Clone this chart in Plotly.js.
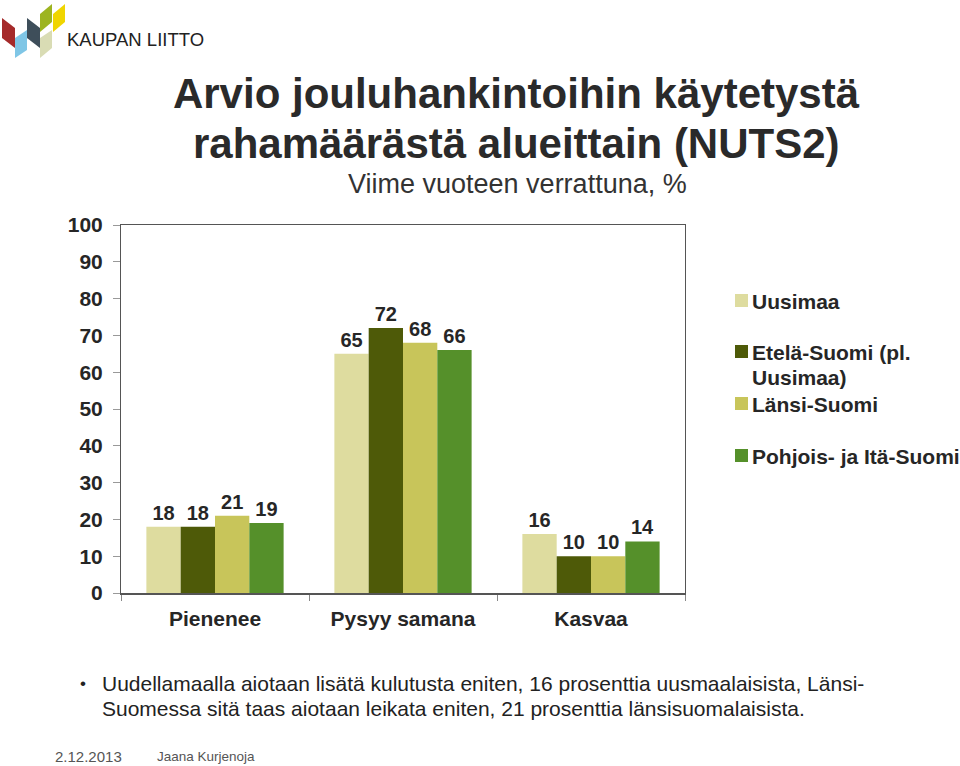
<!DOCTYPE html>
<html>
<head>
<meta charset="utf-8">
<script src="https://cdn.plot.ly/plotly-3.0.1.min.js"></script>
<style>html,body{margin:0;padding:0;background:#fff;}#chart{width:960px;height:766px;}</style>
</head>
<body>
<div id="chart"></div>
<script>
const categories = ["Pienenee", "Pysyy samana", "Kasvaa"];
const seriesNames = ["Uusimaa", "Etelä-Suomi (pl. Uusimaa)", "Länsi-Suomi", "Pohjois- ja Itä-Suomi"];
const legendLines = [["Uusimaa"], ["Etelä-Suomi (pl.", "Uusimaa)"], ["Länsi-Suomi"], ["Pohjois- ja Itä-Suomi"]];
const uusimaa = [18, 65, 16];
const etelaSuomi = [18, 72, 10];
const lansiSuomi = [21, 68, 10];
const pohjoisItaSuomi = [19, 66, 14];
const seriesColors = ["#DEDC9F", "#4E5A08", "#C8C55A", "#55902A"];
const yTicks = [0, 10, 20, 30, 40, 50, 60, 70, 80, 90, 100];
const titleLines = ["Arvio jouluhankintoihin käytetystä", "rahamäärästä alueittain (NUTS2)"];
const bulletLines = ["Uudellamaalla aiotaan lisätä kulutusta eniten, 16 prosenttia uusmaalaisista, Länsi-",
                     "Suomessa sitä taas aiotaan leikata eniten, 21 prosenttia länsisuomalaisista."];

const W = 960, H = 766;
const L = 121, R = 685, T = 225, B = 593;
const px = x => (x - L) / (R - L);
const py = y => (B - y) / (B - T);

const FONT = "Liberation Sans, Arial, sans-serif";
const dark = "#262626";

const allSeries = [uusimaa, etelaSuomi, lansiSuomi, pohjoisItaSuomi];
const traces = allSeries.map((vals, i) => ({
  type: "bar",
  x: categories,
  y: vals,
  name: seriesNames[i],
  marker: {color: seriesColors[i], line: {width: 0}},
  text: vals.map(String),
  textposition: "outside",
  cliponaxis: false,
  textfont: {family: FONT, size: 20, color: dark, weight: "bold"},
  hoverinfo: "skip",
  showlegend: false
}));

// manual legend (uniform slots, marker aligned with first text line)
const legendY = [301, 352, 404, 456];
const shapes = [];
const annotations = [];
legendLines.forEach((lines, i) => {
  shapes.push({type: "rect", xref: "paper", yref: "paper",
    x0: px(735), x1: px(748), y0: py(legendY[i] + 6), y1: py(legendY[i] - 7),
    fillcolor: seriesColors[i], line: {width: 0}});
  lines.forEach((t, k) => {
    annotations.push({xref: "paper", yref: "paper", x: px(750), y: py(legendY[i] + 25 * k),
      xanchor: "left", yanchor: "middle", align: "left", showarrow: false,
      text: "<b>" + t + "</b>", font: {family: FONT, size: 21, color: dark}});
  });
});

// logo pieces (decoration)
const logo = [
  {c: "#A52A2A", p: [[2,18],[15,28],[15,48],[2,38]]},
  {c: "#7FC6E6", p: [[15,38],[27,30],[27,50],[15,58]]},
  {c: "#3E4E5A", p: [[27,18],[40,28],[40,48],[27,38]]},
  {c: "#9DB420", p: [[40,14],[52,4],[52,22],[40,32]]},
  {c: "#F0D500", p: [[53,14],[65,4],[65,22],[53,32]]},
  {c: "#D9DCB4", p: [[40,38],[52,30],[52,48],[40,58]]}
];
logo.forEach(l => {
  const d = "M " + l.p.map(q => px(q[0]) + "," + py(q[1])).join(" L ") + " Z";
  shapes.push({type: "path", xref: "paper", yref: "paper", path: d, fillcolor: l.c, line: {width: 0}});
});

annotations.push(
  {xref: "paper", yref: "paper", x: px(516), y: py(143), xanchor: "center", yanchor: "middle",
   showarrow: false, text: "<b>" + titleLines[1] + "</b>", font: {family: FONT, size: 42, color: "#2a2a2a"}},
  {xref: "paper", yref: "paper", x: px(65), y: py(40), xanchor: "left", yanchor: "middle",
   showarrow: false, text: "KAUPAN LIITTO", font: {family: FONT, size: 18.5, color: "#222"}},
  {xref: "paper", yref: "paper", x: px(517), y: py(184), xanchor: "center", yanchor: "middle",
   showarrow: false, text: "Viime vuoteen verrattuna, %", font: {family: FONT, size: 27, color: "#333"}},
  {xref: "paper", yref: "paper", x: px(78), y: py(683), xanchor: "left", yanchor: "middle",
   showarrow: false, text: "•", font: {family: FONT, size: 17, color: "#222"}},
  {xref: "paper", yref: "paper", x: px(100), y: py(683), xanchor: "left", yanchor: "middle",
   showarrow: false, text: bulletLines[0], font: {family: FONT, size: 21, color: "#222"}},
  {xref: "paper", yref: "paper", x: px(100), y: py(708), xanchor: "left", yanchor: "middle",
   showarrow: false, text: bulletLines[1], font: {family: FONT, size: 21, color: "#222"}},
  {xref: "paper", yref: "paper", x: px(53), y: py(756), xanchor: "left", yanchor: "middle",
   showarrow: false, text: "2.12.2013", font: {family: FONT, size: 15, color: "#555"}},
  {xref: "paper", yref: "paper", x: px(155), y: py(756), xanchor: "left", yanchor: "middle",
   showarrow: false, text: "Jaana Kurjenoja", font: {family: FONT, size: 13.5, color: "#555"}}
);

const layout = {
  width: W, height: H,
  margin: {l: L, r: W - R, t: T, b: H - B, pad: 0},
  paper_bgcolor: "#fff", plot_bgcolor: "#fff",
  font: {family: FONT, color: dark},
  title: {
    text: "<b>" + titleLines[0] + "</b>",
    font: {family: FONT, size: 42, color: "#2a2a2a"},
    x: 516 / W, xanchor: "center", xref: "container",
    y: 1 - 93 / H, yanchor: "middle", yref: "container"
  },
  barmode: "group",
  bargap: 0.27,
  bargroupgap: 0,
  showlegend: false,
  xaxis: {
    type: "category",
    tickson: "boundaries",
    ticks: "outside", ticklen: 6, tickcolor: "#888",
    ticklabelstandoff: 6,
    showline: true, linecolor: "#555", linewidth: 1.5, mirror: true,
    tickfont: {family: FONT, size: 21, color: dark, weight: "bold"},
    showgrid: false, zeroline: false, fixedrange: true
  },
  yaxis: {
    range: [0, 100],
    tickvals: yTicks,
    ticks: "outside", ticklen: 7, tickcolor: "#999",
    ticklabelstandoff: 6,
    showline: true, linecolor: "#555", linewidth: 1, mirror: true,
    tickfont: {family: FONT, size: 21, color: dark, weight: "bold"},
    showgrid: false, zeroline: false, fixedrange: true
  },
  shapes: shapes,
  annotations: annotations
};

Plotly.newPlot("chart", traces, layout, {staticPlot: true, displayModeBar: false});
</script>
</body>
</html>
